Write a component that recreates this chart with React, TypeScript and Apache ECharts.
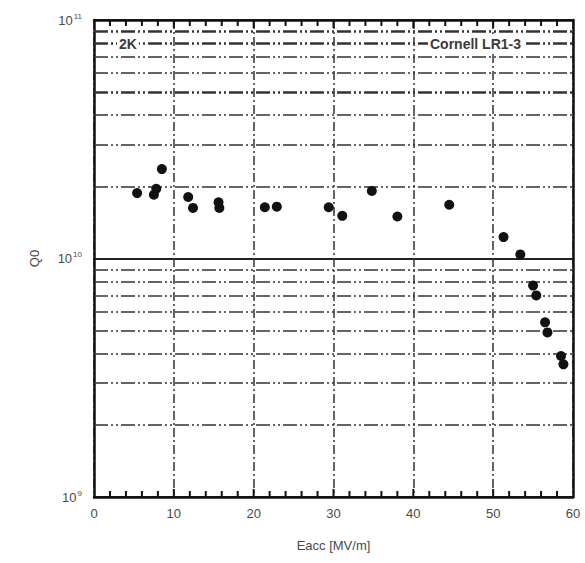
import React, { useEffect, useRef } from "react";
import * as echarts from "echarts";

const eacc = [5.4, 7.5, 7.8, 8.5, 11.8, 12.4, 15.6, 15.7, 21.4, 22.9, 29.4, 31.1, 34.8, 38.0, 44.5, 51.3, 53.4, 55.0, 55.4, 56.5, 56.8, 58.5, 58.8];
const q0 = [1.88e10, 1.85e10, 1.96e10, 2.37e10, 1.81e10, 1.63e10, 1.72e10, 1.63e10, 1.64e10, 1.65e10, 1.64e10, 1.51e10, 1.92e10, 1.5e10, 1.68e10, 1.23e10, 1.04e10, 7.7e9, 7.0e9, 5.4e9, 4.9e9, 3.9e9, 3.6e9];
const minorGridValues = [2e9, 3e9, 4e9, 5e9, 6e9, 7e9, 8e9, 9e9, 2e10, 3e10, 4e10, 5e10, 6e10, 7e10, 8e10, 9e10];
const thickGridValues = [5e10, 8e10, 9e10];
const xTickValues = [2, 4, 6, 8, 10, 12, 14, 16, 18, 20, 22, 24, 26, 28, 30, 32, 34, 36, 38, 40, 42, 44, 46, 48, 50, 52, 54, 56, 58];
const yMin = 1e9;
const yMax = 1e11;

const FONT = "'Liberation Sans', Arial, sans-serif";
const TXT = "#4a4a4a";

export default function App() {
  const ref = useRef<HTMLDivElement>(null);
  useEffect(() => {
    document.body.style.margin = "0";
    const chart = echarts.init(ref.current!, null, { renderer: "svg" });
    const data = eacc.map((x, i) => [x, q0[i]]);
    const option: any = {
      animation: false,
      backgroundColor: "#fff",
      grid: { left: 94, top: 20, width: 479, height: 477 },
      xAxis: [
        {
          type: "value", min: 0, max: 60, interval: 10, position: "bottom",
          axisLine: { show: true, onZero: false, lineStyle: { color: "#111", width: 2.5 } },
          axisTick: { show: false },
          axisLabel: { color: TXT, fontSize: 13, fontFamily: FONT, margin: 10 },
          splitLine: { show: true, lineStyle: { color: "#333", width: 1.5, type: [9, 3, 2, 3] } },
          name: "Eacc [MV/m]", nameLocation: "middle", nameGap: 42,
          nameTextStyle: { color: TXT, fontSize: 13, fontFamily: FONT },
        },
        {
          type: "value", min: 0, max: 60, interval: 10, position: "top",
          axisLine: { show: true, onZero: false, lineStyle: { color: "#111", width: 2.5 } },
          axisTick: { show: false },
          axisLabel: { show: false },
          splitLine: { show: false },
        },
      ],
      yAxis: [
        {
          type: "log", logBase: 10, min: yMin, max: yMax, position: "left",
          axisLine: { show: true, onZero: false, lineStyle: { color: "#111", width: 2.5 } },
          axisTick: { show: false },
          axisLabel: {
            margin: 12, fontFamily: FONT,
            formatter: (v: number) => "{b|10}{s|" + Math.round(Math.log10(v)) + "}",
            rich: {
              b: { color: TXT, fontSize: 13, fontFamily: FONT },
              s: { color: TXT, fontSize: 8, fontFamily: FONT, verticalAlign: "top", padding: [0, 0, 8, 1] },
            },
          },
          splitLine: { show: true, lineStyle: { color: "#222", width: 2, type: "solid" } },
          name: "Q0", nameLocation: "middle", nameGap: 53,
          nameTextStyle: { color: TXT, fontSize: 13, fontFamily: FONT },
        },
        {
          type: "log", logBase: 10, min: yMin, max: yMax, position: "right",
          axisLine: { show: true, onZero: false, lineStyle: { color: "#111", width: 2.5 } },
          axisTick: { show: false },
          axisLabel: { show: false },
          splitLine: { show: false },
        },
      ],
      series: [
        {
          type: "scatter",
          data,
          symbol: "circle",
          symbolSize: 10,
          itemStyle: { color: "#111", opacity: 1 },
          z: 5,
          markLine: {
            silent: true,
            symbol: "none",
            label: { show: false },
            data: minorGridValues.map((v) => ({
              yAxis: v,
              lineStyle: {
                color: "#333",
                width: thickGridValues.includes(v) ? 2.6 : 1.6,
                type: [14, 3, 2, 3, 2, 3],
              },
            })),
          },
        },
        {
          type: "custom",
          silent: true,
          clip: false,
          z: 6,
          data: xTickValues.map((x) => [x, yMin]),
          renderItem: (params: any, api: any) => {
            const x = api.value(0);
            const b = api.coord([x, yMin]);
            const t = api.coord([x, yMax]);
            const len = x % 10 === 0 ? 8 : 6;
            const style = { stroke: "#111", lineWidth: 2 };
            return {
              type: "group",
              children: [
                { type: "line", shape: { x1: b[0], y1: b[1], x2: b[0], y2: b[1] - len }, style },
                { type: "line", shape: { x1: t[0], y1: t[1], x2: t[0], y2: t[1] + len }, style },
              ],
            };
          },
        },
      ],
      graphic: [
        {
          type: "text", left: 117, top: 36, z: 10,
          style: { text: "2K", fill: "#3a3a3a", font: `bold 14px ${FONT}`, backgroundColor: "#fff", padding: [1, 2] },
        },
        {
          type: "text", left: 428, top: 36, z: 10,
          style: { text: "Cornell LR1-3", fill: "#3a3a3a", font: `bold 14px ${FONT}`, backgroundColor: "#fff", padding: [1, 2] },
        },
      ],
    };
    chart.setOption(option);
    return () => chart.dispose();
  }, []);
  return <div ref={ref} style={{ width: 585, height: 563 }} />;
}
